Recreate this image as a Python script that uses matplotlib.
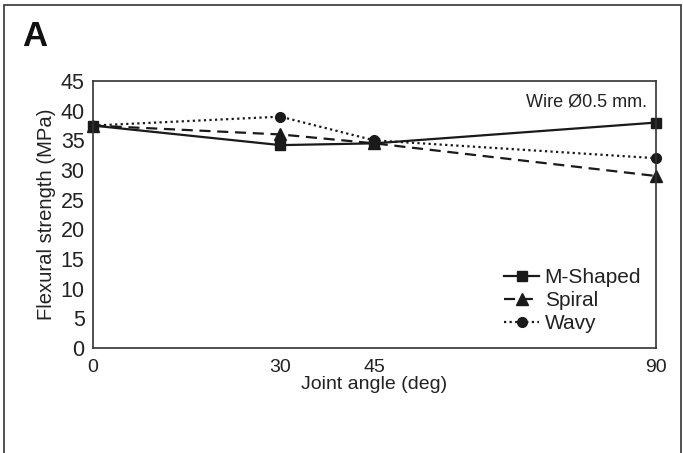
import matplotlib
matplotlib.use('Agg')
import matplotlib.pyplot as plt
from matplotlib.patches import Rectangle

# data
angles = [0, 30, 45, 90]
m_shaped = [37.5, 34.2, 34.5, 38.0]
spiral = [37.5, 36.0, 34.5, 29.0]
wavy = [37.5, 39.0, 35.0, 32.0]
y_ticks = list(range(0, 50, 5))

plt.rcParams['font.family'] = ['Liberation Sans', 'DejaVu Sans']

fig = plt.figure(figsize=(6.83, 4.53), dpi=100)
ax = fig.add_axes([0.136, 0.232, 0.824, 0.589])

ax.plot(angles, m_shaped, color='#1a1a1a', linestyle='-', linewidth=1.6,
        marker='s', markersize=7, label='M-Shaped', clip_on=False)
ax.plot(angles, spiral, color='#1a1a1a', linestyle=(0, (5, 3)), linewidth=1.6,
        marker='^', markersize=8, label='Spiral', clip_on=False)
ax.plot(angles, wavy, color='#1a1a1a', linestyle=(0, (1, 1.5)), linewidth=1.6,
        marker='o', markersize=7, label='Wavy', clip_on=False)

ax.set_xlim(0, 90)
ax.set_ylim(0, 45)
ax.set_xticks(angles)
ax.set_yticks(y_ticks)
ax.tick_params(length=0, colors='#222222')
ax.tick_params(axis='y', pad=6, labelsize=15.5)
ax.tick_params(axis='x', pad=8, labelsize=14)
for s in ax.spines.values():
    s.set_color('#333333')
    s.set_linewidth(1.2)

ax.set_xlabel('Joint angle (deg)', fontsize=14, color='#222222', labelpad=0)
ax.set_ylabel('Flexural strength (MPa)', fontsize=14.6, color='#222222', labelpad=3)

ax.text(0.985, 0.955, 'Wire Ø0.5 mm.', transform=ax.transAxes, ha='right', va='top',
        fontsize=13, color='#222222')

ax.legend(loc='lower right', frameon=False, fontsize=15, handlelength=1.7,
          handletextpad=0.25, labelspacing=0.2, borderaxespad=0.3,
          labelcolor='#222222')

fig.text(0.032, 0.92, 'A', fontsize=25, fontweight='bold', color='#111111',
         va='center', ha='left')

# outer panel frame
fig.patches.append(Rectangle((0.006, -0.1), 0.991, 1.089, transform=fig.transFigure,
                             fill=False, edgecolor='#333333', linewidth=1.2))

fig.savefig('out.png', dpi=100)
